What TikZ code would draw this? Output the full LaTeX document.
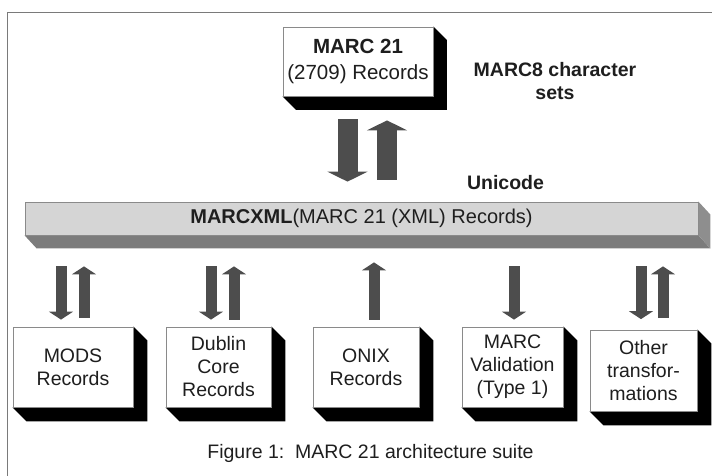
\documentclass[tikz,border=0pt]{standalone}
\usepackage{fontspec}
\setmainfont{Liberation Sans}
\usetikzlibrary{arrows.meta,backgrounds}
\definecolor{frame}{HTML}{7A7A7A}
\definecolor{boxborder}{HTML}{8A8A8A}
\definecolor{txt}{HTML}{1E1E1E}
\definecolor{arr}{HTML}{4D4D4D}
\definecolor{barfront}{HTML}{D5D5D5}
\definecolor{barbot}{HTML}{7C7C7C}
\definecolor{barside}{HTML}{8E8E8E}
\newcommand\myextrude[2]{%
  \fill[black] (#1.north east) -- ++(#2,#2) -- ([shift={(#2,#2)}]#1.south east)
    -- ([shift={(#2,#2)}]#1.south west) -- (#1.south west) -- (#1.south east) -- cycle;}
\begin{document}
\begin{tikzpicture}[x=1pt,y=-1pt,
  box/.style={draw=boxborder, fill=white, line width=0.8pt, inner sep=0pt,
    align=center, text=txt, minimum height=80pt, font=\fontsize{19.5}{23}\selectfont},
  lbl/.style={inner sep=0pt, align=center, text=txt, font=\fontsize{19.5}{23}\selectfont\bfseries},
  smallarrow/.style={draw=arr, line width=11pt, -{Triangle[width=24pt,length=8pt]}},
  bigarrow/.style={draw=arr, line width=20pt, -{Triangle[width=40pt,length=10pt]}}]
\useasboundingbox (0,0) rectangle (712,475);
% frame
\draw[frame, line width=1.5pt] (7.7,480) -- (7.7,12.3) -- (720,12.3);

% nodes
\node[box, minimum width=150pt, minimum height=69pt, font=\fontsize{20.5}{26}\selectfont]
  (marc) at (358,61.5) {\textbf{MARC 21}\\(2709) Records};
\node[lbl] (marc8) at (555,81.5) {MARC8 character\\sets};
\node[lbl] (uni) at (505.5,183) {Unicode};
\node[draw=boxborder, fill=barfront, line width=0.8pt, minimum width=673pt, minimum height=33pt,
  inner sep=0pt, text=txt, font=\fontsize{20}{24}\selectfont]
  (bar) at (361.5,218.5) {\textbf{MARCXML}(MARC 21 (XML) Records)};
\node[box, minimum width=120pt] (mods) at (73,367) {MODS\\Records};
\node[box, minimum width=105pt] (dublin) at (218.5,367) {Dublin\\Core\\Records};
\node[box, minimum width=106pt] (onix) at (366,367) {ONIX\\Records};
\node[box, minimum width=101pt] (valid) at (512.5,367) {MARC\\Validation\\(Type 1)};
\node[box, minimum width=107pt, minimum height=81pt] (other) at (643.5,370.5) {Other\\transfor-\\mations};

% extrusions
\begin{scope}[on background layer]
  \myextrude{marc}{13.5}
  \myextrude{mods}{14}
  \myextrude{dublin}{14}
  \myextrude{onix}{14}
  \myextrude{valid}{14}
  \myextrude{other}{14}
  \fill[barbot] (bar.south west) -- (bar.south east) -- ++(12,13)
    -- ([shift={(12,13)}]bar.south west) -- cycle;
  \fill[barside] (bar.north east) -- ++(12,13) -- ([shift={(12,13)}]bar.south east)
    -- (bar.south east) -- cycle;
\end{scope}

% top arrows
\draw[bigarrow, transform canvas={xshift=-10.5pt}, shorten <=23pt, shorten >=20pt]
  (marc.south) -- (marc.south |- bar.north);
\draw[bigarrow, transform canvas={xshift=29pt}, shorten <=22pt, shorten >=24pt]
  (marc.south |- bar.north) -- (marc.south);

% bottom arrows
\draw[smallarrow, transform canvas={xshift=-12pt}, shorten <=31pt, shorten >=7pt]
  (mods.north |- bar.south) -- (mods.north);
\draw[smallarrow, transform canvas={xshift=11pt}, shorten <=9pt, shorten >=31pt]
  (mods.north) -- (mods.north |- bar.south);
\draw[smallarrow, transform canvas={xshift=-7.5pt}, shorten <=31pt, shorten >=7pt]
  (dublin.north |- bar.south) -- (dublin.north);
\draw[smallarrow, transform canvas={xshift=15.5pt}, shorten <=7pt, shorten >=31pt]
  (dublin.north) -- (dublin.north |- bar.south);
\draw[smallarrow, transform canvas={xshift=8pt}, shorten <=7pt, shorten >=27pt]
  (onix.north) -- (onix.north |- bar.south);
\draw[smallarrow, transform canvas={xshift=1.5pt}, shorten <=31pt, shorten >=7pt]
  (valid.north |- bar.south) -- (valid.north);
\draw[smallarrow, transform canvas={xshift=-2.5pt}, shorten <=31pt, shorten >=10.5pt]
  (other.north |- bar.south) -- (other.north);
\draw[smallarrow, transform canvas={xshift=19.5pt}, shorten <=11.5pt, shorten >=31pt]
  (other.north) -- (other.north |- bar.south);

% caption
\node[inner sep=0pt, text=txt, font=\fontsize{19.5}{23}\selectfont] (cap) at (370.5,453)
  {Figure 1:\ \ MARC 21 architecture suite};
\end{tikzpicture}
\end{document}
